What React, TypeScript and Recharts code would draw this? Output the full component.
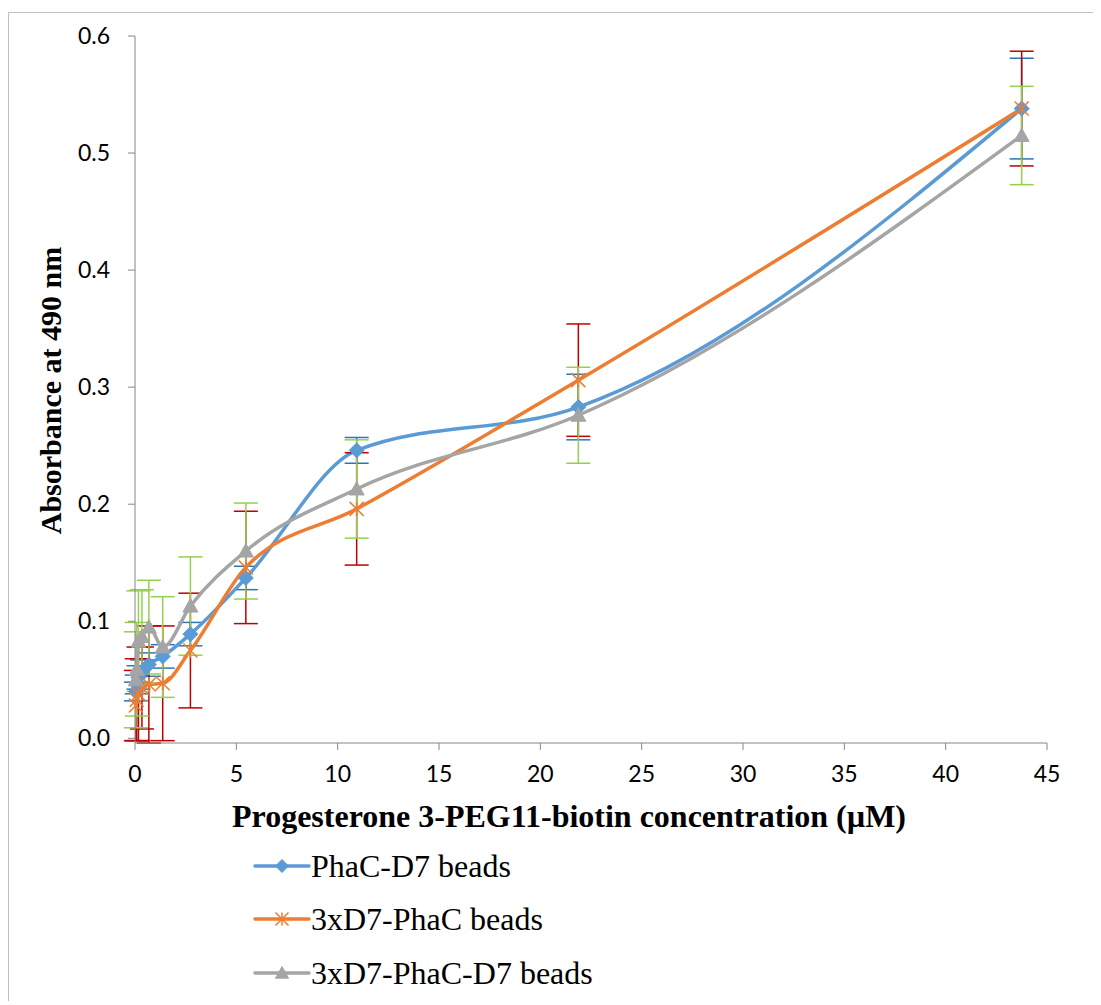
import React from 'react';
import { LineChart, Line, XAxis, YAxis, ErrorBar, Legend } from 'recharts';

// concentration (µM) and mean absorbance at 490 nm with SD for each bead type
const conc = [0.043, 0.085, 0.171, 0.342, 0.684, 1.367, 2.734, 5.469, 10.938, 21.875, 43.75];
const phacD7 = [0.040, 0.046, 0.052, 0.057, 0.063, 0.070, 0.089, 0.137, 0.246, 0.283, 0.538];
const phacD7Err = [0.008, 0.008, 0.010, 0.010, 0.010, 0.010, 0.010, 0.010, 0.011, 0.028, 0.043];
const x3D7PhaC = [0.028, 0.033, 0.038, 0.043, 0.046, 0.047, 0.075, 0.146, 0.196, 0.306, 0.538];
const x3D7PhaCErr = [0.030, 0.035, 0.040, 0.035, 0.050, 0.049, 0.049, 0.048, 0.048, 0.048, 0.049];
const x3D7PhaCD7 = [0.050, 0.059, 0.083, 0.087, 0.095, 0.078, 0.113, 0.160, 0.213, 0.276, 0.515];
const x3D7PhaCD7Err = [0.041, 0.040, 0.043, 0.040, 0.040, 0.043, 0.042, 0.041, 0.042, 0.041, 0.042];

const xTicks = [0, 5, 10, 15, 20, 25, 30, 35, 40, 45];
const yTicks = [0, 0.1, 0.2, 0.3, 0.4, 0.5, 0.6];

const seriesNames = ['PhaC-D7 beads', '3xD7-PhaC beads', '3xD7-PhaC-D7 beads'];

const data = conc.map((c, i) => ({
  x: c,
  a: phacD7[i],
  aErr: phacD7Err[i],
  b: x3D7PhaC[i],
  bErr: x3D7PhaCErr[i],
  c: x3D7PhaCD7[i],
  cErr: x3D7PhaCD7Err[i],
}));

const BLUE = '#5B9BD5';
const ORANGE = '#ED7D31';
const GRAY = '#A5A5A5';
const AXIS = '#868686';

const Diamond = ({ cx, cy, s = 7.5 }: any) =>
  cx == null ? null : (
    <path d={`M${cx},${cy - s}L${cx + s},${cy}L${cx},${cy + s}L${cx - s},${cy}Z`} fill={BLUE} stroke={BLUE} strokeWidth={1} />
  );

const Star = ({ cx, cy, s = 7 }: any) =>
  cx == null ? null : (
    <path
      d={`M${cx - s},${cy - s}L${cx + s},${cy + s}M${cx - s},${cy + s}L${cx + s},${cy - s}M${cx},${cy - s}L${cx},${cy + s}`}
      stroke={ORANGE}
      strokeWidth={1.5}
      fill="none"
    />
  );

const Triangle = ({ cx, cy, s = 7.5 }: any) =>
  cx == null ? null : (
    <path d={`M${cx},${cy - s}L${cx + s},${cy + s * 0.8}L${cx - s},${cy + s * 0.8}Z`} fill={GRAY} stroke={GRAY} strokeWidth={1} />
  );

const serif = '"Liberation Serif", "Times New Roman", serif';

const XTitle = ({ viewBox }: any) => (
  <text
    x={viewBox.x + viewBox.width / 2 - 22}
    y={viewBox.y + 73}
    textAnchor="middle"
    dominantBaseline="central"
    fontFamily={serif}
    fontWeight="bold"
    fontSize={32}
    fill="#000"
  >
    Progesterone 3-PEG11-biotin concentration (µM)
  </text>
);

const YTitle = ({ viewBox }: any) => {
  const x = viewBox.x + 41;
  const y = viewBox.y + viewBox.height / 2 + 1;
  return (
    <text
      x={x}
      y={y}
      transform={`rotate(-90 ${x} ${y})`}
      textAnchor="middle"
      dominantBaseline="central"
      fontFamily={serif}
      fontWeight="bold"
      fontSize={30}
      fill="#000"
    >
      Absorbance at 490 nm
    </text>
  );
};

const legendItems = [
  { name: seriesNames[0], color: BLUE, Marker: Diamond, s: 6.5 },
  { name: seriesNames[1], color: ORANGE, Marker: Star, s: 6.5 },
  { name: seriesNames[2], color: GRAY, Marker: Triangle, s: 6.5 },
];

const renderLegend = () => (
  <div>
    {legendItems.map(({ name, color, Marker, s }) => (
      <div key={name} style={{ display: 'flex', alignItems: 'center', height: 53.5 }}>
        <svg width={58} height={20}>
          <line x1={2} y1={10} x2={56} y2={10} stroke={color} strokeWidth={3.5} strokeLinecap="round" />
          <Marker cx={29} cy={10} s={s} />
        </svg>
        <span style={{ fontFamily: serif, fontSize: 32, color: '#000', lineHeight: 1 }}>{name}</span>
      </div>
    ))}
  </div>
);

const tickStyle = { fontFamily: 'Lato, "Open Sans", sans-serif', fontSize: 23, fill: '#000' };

export default function App() {
  return (
    <div style={{ paddingTop: 4 }}>
      <div
        style={{
          width: 1093,
          height: 988,
          borderLeft: '1px solid #BFBFBF',
          borderTop: '1px solid #BFBFBF',
          background: '#fff',
          position: 'relative',
        }}
      >
        <LineChart width={1092} height={987} data={data} margin={{ top: 23, right: 54, bottom: 167, left: 0 }}>
          <XAxis
            dataKey="x"
            type="number"
            domain={[0, 45]}
            ticks={xTicks}
            interval={0}
            stroke={AXIS}
            tickSize={7}
            tickMargin={16}
            tick={tickStyle}
            height={90}
            label={<XTitle />}
          />
          <YAxis
            type="number"
            domain={[0, 0.6]}
            ticks={yTicks}
            interval={0}
            stroke={AXIS}
            tickSize={7}
            tickMargin={18}
            tick={tickStyle}
            width={126}
            tickFormatter={(v: number) => v.toFixed(1)}
            label={<YTitle />}
          />
          <Legend
            layout="horizontal"
            verticalAlign="middle"
            align="center"
            content={renderLegend}
            wrapperStyle={{ top: 826, left: 244, width: 500 }}
          />
          <Line
            name={seriesNames[0]}
            dataKey="a"
            type="monotone"
            stroke={BLUE}
            strokeWidth={3.5}
            dot={(p: any) => <Diamond key={`a${p.index}`} cx={p.cx} cy={p.cy} />}
            isAnimationActive={false}
          >
            <ErrorBar dataKey="aErr" direction="y" width={12} stroke="#2E75B6" strokeWidth={1.5} />
          </Line>
          <Line
            name={seriesNames[1]}
            dataKey="b"
            type="monotone"
            stroke={ORANGE}
            strokeWidth={3.5}
            dot={(p: any) => <Star key={`b${p.index}`} cx={p.cx} cy={p.cy} />}
            isAnimationActive={false}
          >
            <ErrorBar dataKey="bErr" direction="y" width={12} stroke="#C00000" strokeWidth={1.5} />
          </Line>
          <Line
            name={seriesNames[2]}
            dataKey="c"
            type="monotone"
            stroke={GRAY}
            strokeWidth={3.5}
            dot={(p: any) => <Triangle key={`c${p.index}`} cx={p.cx} cy={p.cy} />}
            isAnimationActive={false}
          >
            <ErrorBar dataKey="cErr" direction="y" width={12} stroke="#92D050" strokeWidth={1.5} />
          </Line>
        </LineChart>
      </div>
    </div>
  );
}
